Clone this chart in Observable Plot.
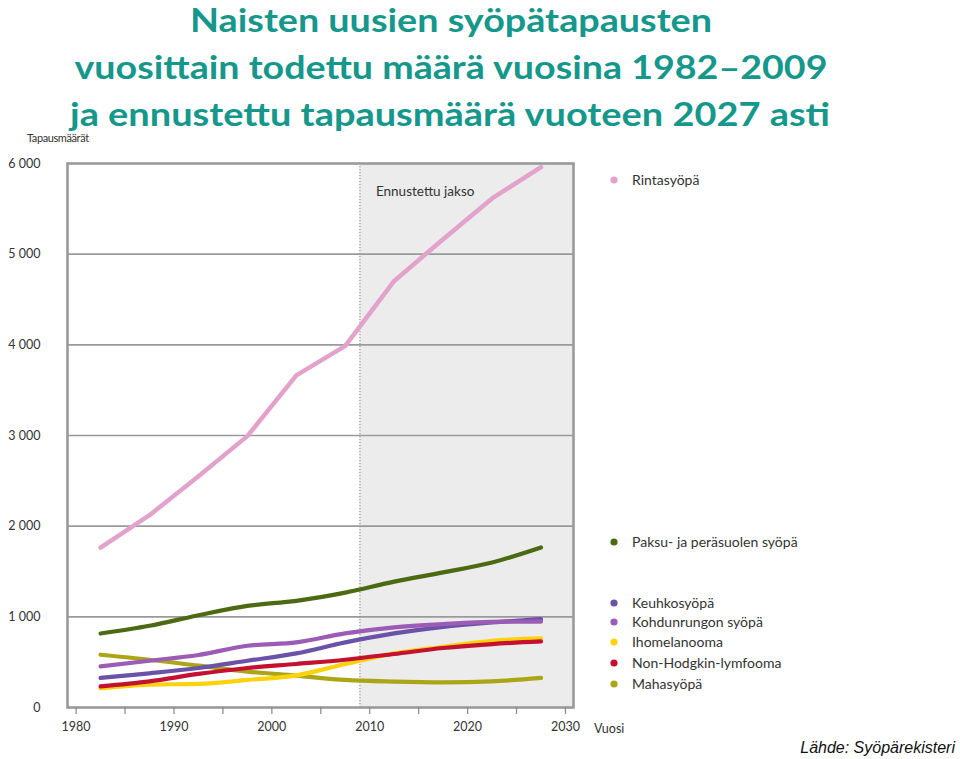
<!DOCTYPE html>
<html>
<head>
<meta charset="utf-8">
<script src="https://cdn.jsdelivr.net/npm/d3@7"></script>
<script src="https://cdn.jsdelivr.net/npm/@observablehq/plot@0.6"></script>
<style>
  html, body { margin: 0; padding: 0; background: #fff; }
  body { width: 960px; height: 759px; overflow: hidden; position: relative; font-family: Lato, "Open Sans", sans-serif; }
  #chart { position: absolute; left: 0; top: 0; }
  #overlay { position: absolute; left: 0; top: 0; pointer-events: none; }
</style>
</head>
<body>
<div id="chart"></div>
<svg id="overlay" width="960" height="759"></svg>
<script>
// ---- Data ----
const years = [1982.5, 1987.5, 1992.5, 1997.5, 2002.5, 2007.5, 2012.5, 2017.5, 2022.5, 2027.5];
const rintasyopa  = [1762, 2121, 2550, 2993, 3663, 3989, 4705, 5165, 5615, 5960];
const paksusuoli  = [816, 901, 1018, 1121, 1176, 1267, 1388, 1490, 1600, 1765];
const keuhko      = [326, 377, 436, 516, 597, 718, 817, 890, 938, 975];
const kohdunrunko = [454, 516, 579, 681, 718, 817, 883, 920, 945, 948];
const ihomelanooma= [212, 253, 260, 304, 355, 480, 597, 670, 736, 762];
const nonHodgkin  = [234, 289, 370, 436, 480, 527, 590, 656, 700, 729];
const mahasyopa   = [582, 527, 461, 396, 352, 304, 286, 278, 289, 326];

const seriesNames = ["Rintasyöpä", "Paksu- ja peräsuolen syöpä", "Keuhkosyöpä", "Kohdunrungon syöpä", "Ihomelanooma", "Non-Hodgkin-lymfooma", "Mahasyöpä"];
const seriesValues = [rintasyopa, paksusuoli, keuhko, kohdunrunko, ihomelanooma, nonHodgkin, mahasyopa];
const seriesColors = ["#e2a2cb", "#4b6a12", "#6a52a8", "#9c5cb5", "#fcd20c", "#c3112f", "#aca616"];

const yTicks = [0, 1000, 2000, 3000, 4000, 5000, 6000];
const xTicks = [1980, 1985, 1990, 1995, 2000, 2005, 2010, 2015, 2020, 2025, 2030];
const forecastStart = 2009;
const xDomain = [1979.12, 2030.82];

const titleLines = ["Naisten uusien syöpätapausten", "vuosittain todettu määrä vuosina 1982–2009", "ja ennustettu tapausmäärä vuoteen 2027 asti"];

// ---- Build tidy table ----
const rows = [];
seriesNames.forEach((name, i) => {
  years.forEach((yr, j) => rows.push({series: name, year: yr, value: seriesValues[i][j]}));
});

const fmt = d => d3.format(",")(d).replace(/,/g, " ");

const marks = [
  Plot.rect([{x1: forecastStart, x2: xDomain[1]}], {x1: "x1", x2: "x2", y1: 0, y2: 6000, fill: "#ececec"}),
  Plot.ruleY(yTicks.filter(d => d > 0 && d < 6000), {stroke: "#9a9a9a", strokeWidth: 1.6}),
  Plot.ruleX([forecastStart], {stroke: "#8a8a8a", strokeWidth: 1, strokeDasharray: "1.2,1.8"}),
  Plot.text(["Ennustettu jakso"], {x: forecastStart, frameAnchor: "top", textAnchor: "start", dx: 16, dy: 23, fontSize: 13.5, fill: "#333"}),
  Plot.frame({stroke: "#9a9a9a", strokeWidth: 2.6}),
  Plot.axisX({ticks: xTicks, tickSize: 7, tickPadding: 8, stroke: "#888", strokeWidth: 1.2, tickFormat: d => d % 10 === 0 ? String(d) : "", label: null, fontSize: 12.5}),
  Plot.axisY({ticks: yTicks, tickSize: 0, tickPadding: 27, tickFormat: fmt, label: null, fontSize: 12.5}),
];
// draw order so that overlaps resemble the reference
const order = [6, 4, 5, 2, 3, 1, 0];
order.forEach(i => {
  marks.push(Plot.line(rows.filter(r => r.series === seriesNames[i]), {
    x: "year", y: "value", stroke: seriesColors[i], strokeWidth: i === 0 ? 4.5 : 4.2,
    curve: i === 0 ? "linear" : "monotone-x", strokeLinecap: "round", strokeLinejoin: "round"
  }));
});

const chart = Plot.plot({
  width: 960, height: 759,
  marginLeft: 67, marginRight: 387, marginTop: 163, marginBottom: 52,
  x: {domain: xDomain},
  y: {domain: [0, 6000]},
  style: {fontFamily: "Lato, 'Open Sans', sans-serif", fontSize: "12.5px", color: "#333", background: "transparent"},
  marks
});
document.getElementById("chart").appendChild(chart);

// ---- Overlay: title, axis labels, legend, caption ----
const ov = d3.select("#overlay");
const titleLayout = [{cx: 451, y: 32, w: 522}, {cx: 451, y: 79, w: 753}, {cx: 450, y: 126, w: 760}];
titleLines.forEach((t, i) => {
  ov.append("text").attr("x", titleLayout[i].cx).attr("y", titleLayout[i].y)
    .attr("text-anchor", "middle").attr("font-family", "Lato, 'Open Sans', sans-serif")
    .attr("font-weight", "bold").attr("font-size", 33).attr("fill", "#15978c")
    .attr("textLength", titleLayout[i].w).attr("lengthAdjust", "spacingAndGlyphs")
    .text(t);
});
ov.append("text").attr("x", 27).attr("y", 142).attr("font-family", "Lato, sans-serif")
  .attr("font-size", 11).attr("fill", "#333").attr("letter-spacing", -0.4).text("Tapausmäärät");
ov.append("text").attr("x", 594).attr("y", 733).attr("font-family", "Lato, sans-serif")
  .attr("font-size", 12.5).attr("fill", "#333").text("Vuosi");

const legendY = [180, 542, 603, 622, 642, 663, 684];
seriesNames.forEach((name, i) => {
  ov.append("circle").attr("cx", 614).attr("cy", legendY[i]).attr("r", 3.6).attr("fill", seriesColors[i]);
  ov.append("text").attr("x", 632).attr("y", legendY[i]).attr("dy", "0.35em")
    .attr("font-family", "Lato, sans-serif").attr("font-size", 14).attr("fill", "#333").text(name);
});

ov.append("text").attr("x", 955).attr("y", 753).attr("text-anchor", "end")
  .attr("font-family", "'Liberation Sans', Arial, sans-serif").attr("font-style", "italic")
  .attr("font-size", 16).attr("fill", "#111").text("Lähde: Syöpärekisteri");
</script>
</body>
</html>
